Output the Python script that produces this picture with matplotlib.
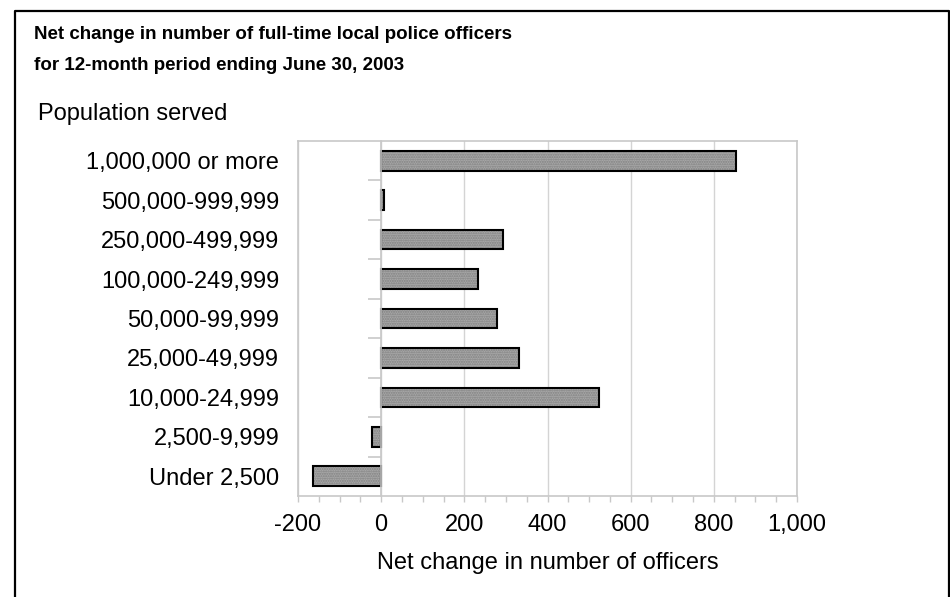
import matplotlib
matplotlib.use("Agg")
import matplotlib.pyplot as plt
import matplotlib.ticker as ticker

categories = ["1,000,000 or more", "500,000-999,999", "250,000-499,999",
              "100,000-249,999", "50,000-99,999", "25,000-49,999",
              "10,000-24,999", "2,500-9,999", "Under 2,500"]
net_change = [853, 8, 293, 232, 278, 332, 523, -22, -163]

plt.rcParams['font.family'] = ['Liberation Sans', 'DejaVu Sans']
plt.rcParams['axes.unicode_minus'] = False

W, H = 950, 597
fig = plt.figure(figsize=(W / 100, H / 100), dpi=100)

# outer black frame (open at the bottom)
fig.add_artist(plt.Line2D([14.5 / W, 14.5 / W, 948.5 / W, 948.5 / W],
                          [0, 1 - 10.5 / H, 1 - 10.5 / H, 0],
                          transform=fig.transFigure, color='black', lw=1.6))

fig.text(34 / W, 1 - 26 / H,
         "Net change in number of full-time local police officers\n"
         "for 12-month period ending June 30, 2003",
         fontsize=13.5, fontweight='bold', va='top', ha='left', linespacing=2.05)
fig.text(38 / W, 1 - 114 / H, "Population served", fontsize=17, va='center')

left, right, top, bottom = 298 / W, 797 / W, 1 - 141 / H, 1 - 496 / H
ax = fig.add_axes([left, bottom, right - left, top - bottom])

ypos = list(range(len(categories)))
ax.barh(ypos, net_change, height=0.5, color='#a8a8a8', hatch='.......',
        edgecolor='#808080', linewidth=0, zorder=3)
ax.barh(ypos, net_change, height=0.5, fill=False, edgecolor='black',
        linewidth=1.5, zorder=4)

ax.set_xlim(-200, 1000)
ax.set_ylim(len(categories) - 0.5, -0.5)
ax.set_yticks(ypos)
ax.set_yticklabels(categories, fontsize=17)
ax.tick_params(axis='y', which='both', length=0, pad=13.5)

ax.xaxis.set_major_locator(ticker.MultipleLocator(200))
ax.xaxis.set_minor_locator(ticker.MultipleLocator(50))
ax.xaxis.set_major_formatter(ticker.StrMethodFormatter("{x:,.0f}"))
ax.tick_params(axis='x', which='both', direction='out', length=4.5,
               color='#c8c8c8', width=1, labelsize=17, pad=8.3)
ax.grid(axis='x', color='#d4d4d4', linewidth=1, zorder=0)
for s in ax.spines.values():
    s.set_color('#c8c8c8')
    s.set_linewidth(1.2)

ax.set_xlabel("Net change in number of officers", fontsize=17, labelpad=11.5)

# category separator ticks on the zero line
x0 = left + (0 - (-200)) / 1200 * (right - left)
ax2 = fig.add_axes([x0, bottom, right - x0, top - bottom], sharey=ax)
ax2.patch.set_visible(False)
for name in ['top', 'right', 'bottom']:
    ax2.spines[name].set_visible(False)
ax2.spines['left'].set_color('#c8c8c8')
ax2.spines['left'].set_linewidth(1.2)
ax2.set_xticks([])
ax2.yaxis.set_minor_locator(ticker.FixedLocator([i + 0.5 for i in ypos[:-1]]))
ax2.tick_params(axis='y', which='major', length=0, labelleft=False)
ax2.tick_params(axis='y', which='minor', length=9.5, color='#c8c8c8', width=1.2)

fig.savefig("out.png", dpi=100)
